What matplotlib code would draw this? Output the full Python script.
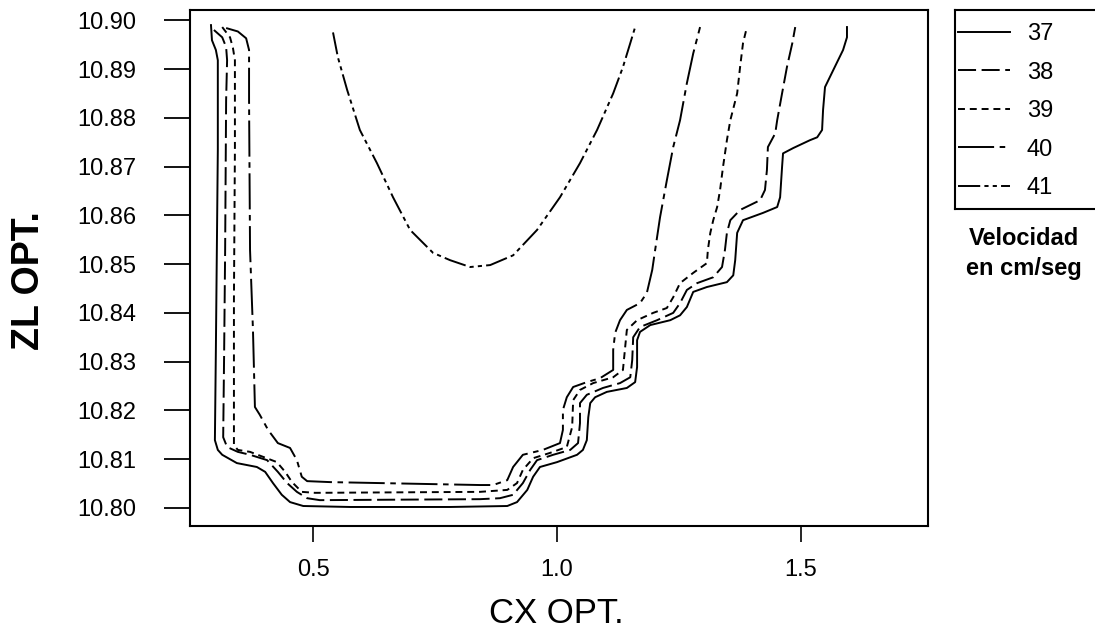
import numpy as np
import matplotlib
matplotlib.use("Agg")
import matplotlib.pyplot as plt
from matplotlib import font_manager as fm

# ---------------- data ----------------
levels = ["37", "38", "39", "40", "41"]

cx_37 = [0.291, 0.293, 0.301, 0.305, 0.305, 0.303, 0.301, 0.299, 0.305, 0.314, 0.344, 0.385,
         0.402, 0.418, 0.436, 0.453, 0.480, 0.576, 0.781, 0.898, 0.918, 0.939, 0.951, 0.965,
         1.000, 1.041, 1.053, 1.061, 1.064, 1.068, 1.078, 1.102, 1.143, 1.160, 1.164, 1.164,
         1.170, 1.191, 1.232, 1.252, 1.266, 1.279, 1.307, 1.348, 1.361, 1.365, 1.369, 1.381,
         1.422, 1.451, 1.457, 1.461, 1.463, 1.484, 1.518, 1.533, 1.543, 1.545, 1.549, 1.566,
         1.586, 1.594, 1.594]
zl_37 = [10.8990, 10.8959, 10.8939, 10.8918, 10.8734, 10.8529, 10.8324, 10.8139, 10.8119, 10.8109,
         10.8092, 10.8084, 10.8074, 10.8051, 10.8027, 10.8012, 10.8004, 10.8002, 10.8002, 10.8004,
         10.8012, 10.8037, 10.8064, 10.8084, 10.8094, 10.8109, 10.8119, 10.8139, 10.8186, 10.8215,
         10.8227, 10.8238, 10.8246, 10.8258, 10.8289, 10.8344, 10.8361, 10.8375, 10.8385, 10.8395,
         10.8412, 10.8443, 10.8453, 10.8463, 10.8477, 10.8508, 10.8564, 10.8590, 10.8605, 10.8617,
         10.8637, 10.8699, 10.8727, 10.8738, 10.8754, 10.8760, 10.8775, 10.8816, 10.8863, 10.8898,
         10.8939, 10.8965, 10.8986]

cx_38 = [0.297, 0.314, 0.322, 0.324, 0.322, 0.320, 0.318, 0.316, 0.324, 0.346, 0.371, 0.406,
         0.428, 0.447, 0.467, 0.488, 0.514, 0.842, 0.883, 0.910, 0.930, 0.945, 0.959, 0.992,
         1.027, 1.043, 1.047, 1.047, 1.061, 1.094, 1.129, 1.150, 1.154, 1.156, 1.170, 1.205,
         1.238, 1.252, 1.266, 1.287, 1.320, 1.338, 1.344, 1.348, 1.355, 1.375, 1.416, 1.426,
         1.430, 1.432, 1.447, 1.451, 1.461, 1.471, 1.482, 1.488]
zl_38 = [10.8980, 10.8965, 10.8945, 10.8918, 10.8836, 10.8529, 10.8324, 10.8145, 10.8125, 10.8115,
         10.8109, 10.8098, 10.8074, 10.8051, 10.8033, 10.8020, 10.8016, 10.8018, 10.8020, 10.8027,
         10.8051, 10.8078, 10.8098, 10.8109, 10.8119, 10.8133, 10.8174, 10.8215, 10.8232, 10.8246,
         10.8256, 10.8268, 10.8303, 10.8350, 10.8371, 10.8385, 10.8400, 10.8420, 10.8447, 10.8461,
         10.8473, 10.8494, 10.8529, 10.8564, 10.8590, 10.8611, 10.8631, 10.8652, 10.8693, 10.8740,
         10.8768, 10.8795, 10.8850, 10.8904, 10.8953, 10.8986]

cx_39 = [0.314, 0.330, 0.336, 0.340, 0.340, 0.338, 0.338, 0.346, 0.371, 0.426, 0.443, 0.457,
         0.477, 0.504, 0.842, 0.898, 0.918, 0.930, 0.951, 0.986, 1.020, 1.031, 1.033, 1.047,
         1.074, 1.115, 1.135, 1.139, 1.143, 1.164, 1.197, 1.225, 1.238, 1.252, 1.279, 1.307,
         1.309, 1.314, 1.320, 1.328, 1.334, 1.340, 1.348, 1.355, 1.369, 1.375, 1.381, 1.389]
zl_39 = [10.8986, 10.8965, 10.8943, 10.8918, 10.8734, 10.8426, 10.8129, 10.8119, 10.8115, 10.8094,
         10.8074, 10.8053, 10.8033, 10.8031, 10.8033, 10.8037, 10.8051, 10.8078, 10.8102, 10.8113,
         10.8125, 10.8166, 10.8221, 10.8242, 10.8256, 10.8268, 10.8283, 10.8324, 10.8365, 10.8385,
         10.8400, 10.8410, 10.8432, 10.8461, 10.8482, 10.8502, 10.8529, 10.8564, 10.8590, 10.8617,
         10.8652, 10.8699, 10.8754, 10.8795, 10.8850, 10.8904, 10.8953, 10.8986]

cx_40 = [0.322, 0.346, 0.363, 0.369, 0.369, 0.371, 0.377, 0.381, 0.391, 0.408, 0.428, 0.453,
         0.467, 0.477, 0.488, 0.535, 0.842, 0.869, 0.898, 0.910, 0.930, 0.971, 1.006, 1.012,
         1.012, 1.020, 1.033, 1.061, 1.088, 1.115, 1.115, 1.119, 1.129, 1.143, 1.170, 1.184,
         1.195, 1.201, 1.211, 1.225, 1.238, 1.252, 1.266, 1.279, 1.293]
zl_40 = [10.8984, 10.8977, 10.8963, 10.8939, 10.8836, 10.8529, 10.8365, 10.8207, 10.8191, 10.8160,
         10.8133, 10.8123, 10.8098, 10.8064, 10.8055, 10.8053, 10.8047, 10.8047, 10.8057, 10.8084,
         10.8109, 10.8119, 10.8133, 10.8160, 10.8201, 10.8227, 10.8248, 10.8258, 10.8266, 10.8283,
         10.8324, 10.8359, 10.8385, 10.8406, 10.8420, 10.8441, 10.8488, 10.8529, 10.8596, 10.8672,
         10.8740, 10.8795, 10.8871, 10.8932, 10.8986]

cx_41 = [0.541, 0.551, 0.570, 0.596, 0.631, 0.664, 0.699, 0.734, 0.746, 0.781, 0.822, 0.863,
         0.910, 0.959, 1.006, 1.047, 1.082, 1.115, 1.135, 1.150, 1.160]
zl_41 = [10.8975, 10.8924, 10.8857, 10.8775, 10.8707, 10.8637, 10.8570, 10.8535, 10.8523, 10.8508,
         10.8494, 10.8498, 10.8518, 10.8570, 10.8637, 10.8707, 10.8775, 10.8850, 10.8904, 10.8953,
         10.8986]

x_ticks = [0.5, 1.0, 1.5]
x_tick_labels = ["0.5", "1.0", "1.5"]
y_ticks = [10.80, 10.81, 10.82, 10.83, 10.84, 10.85, 10.86, 10.87, 10.88, 10.89, 10.90]
y_tick_labels = ["10.80", "10.81", "10.82", "10.83", "10.84", "10.85",
                 "10.86", "10.87", "10.88", "10.89", "10.90"]

# ---------------- fonts ----------------
def pick(*names):
    for n in names:
        try:
            fm.findfont(fm.FontProperties(family=n), fallback_to_default=False)
            return n
        except Exception:
            pass
    return "DejaVu Sans"

narrow = pick("Liberation Sans Narrow", "Liberation Sans")
sans = pick("Liberation Sans", "DejaVu Sans")
num_size = 18.5 if narrow == "Liberation Sans Narrow" else 17

plt.rcParams["lines.scale_dashes"] = False
plt.rcParams["font.family"] = [sans, "DejaVu Sans"]

# ---------------- figure ----------------
W, H = 1095, 630
fig = plt.figure(figsize=(W / 100, H / 100), dpi=100)
fig.patch.set_facecolor("white")
ax = fig.add_axes([190 / W, 1 - 526 / H, (928 - 190) / W, (526 - 10) / H])

styles = {
    "37": "-",
    "38": (0, (13, 4)),
    "39": (0, (5, 3.5)),
    "40": (0, (26, 4, 4, 4)),
    "41": (0, (16, 3, 3, 3, 3, 3)),
}
series = {"37": (cx_37, zl_37), "38": (cx_38, zl_38), "39": (cx_39, zl_39),
          "40": (cx_40, zl_40), "41": (cx_41, zl_41)}

handles = []
for lev in levels:
    xs, ys = series[lev]
    (ln,) = ax.plot(xs, ys, color="black", lw=1.4, linestyle=styles[lev],
                    solid_joinstyle="round", dash_joinstyle="round", label=lev)
    handles.append(ln)

ax.set_xlim(0.248, 1.760)
ax.set_ylim(10.7963, 10.9021)
for s in ax.spines.values():
    s.set_linewidth(1.5)

ax.set_xticks(x_ticks)
ax.set_xticklabels(x_tick_labels, fontfamily=[narrow, "DejaVu Sans"], fontsize=num_size)
ax.set_yticks(y_ticks)
ax.set_yticklabels(y_tick_labels, fontfamily=[narrow, "DejaVu Sans"], fontsize=num_size)
ax.tick_params(axis="y", direction="out", length=18.5, width=1.3, pad=20)
ax.tick_params(axis="x", direction="out", length=11.5, width=1.2, pad=12)
ax.minorticks_off()

# axis titles
fig.text(29 / W, 1 - 281 / H, "ZL OPT.", rotation=90, ha="center", va="center",
         fontsize=27, fontweight="bold")
fig.text(556 / W, 1 - 623 / H, "CX OPT.", ha="center", va="baseline", fontsize=25)

# legend box (extends beyond the right edge as in the reference)
lax_w = 0.2
lax = fig.add_axes([955 / W, 1 - 209 / H, lax_w, 199 / H])
lax.set_xticks([])
lax.set_yticks([])
for s in lax.spines.values():
    s.set_linewidth(1.5)
lax.patch.set_alpha(0)
fs_px = num_size * 100 / 72
lax.legend(handles, levels, loc="upper left", bbox_to_anchor=(-10 / (lax_w * W), 1),
           bbox_transform=lax.transAxes, frameon=False,
           prop=fm.FontProperties(family=narrow, size=num_size),
           borderaxespad=0, borderpad=0.55, labelspacing=0.70,
           handlelength=52 / fs_px, handletextpad=17 / fs_px)

fig.text(1024 / W, 1 - 245 / H, "Velocidad", ha="center", va="baseline",
         fontsize=17, fontweight="bold")
fig.text(1024 / W, 1 - 275 / H, "en cm/seg", ha="center", va="baseline",
         fontsize=17, fontweight="bold")

fig.savefig("out.png", dpi=100, facecolor="white")
